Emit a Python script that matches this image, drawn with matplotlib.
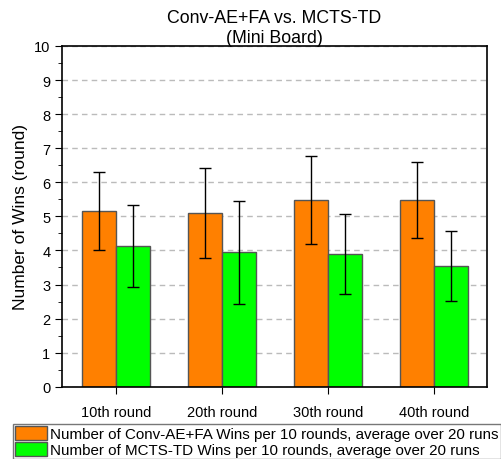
import matplotlib
matplotlib.use('Agg')
import matplotlib.pyplot as plt
import numpy as np
from matplotlib.ticker import MultipleLocator

plt.rcParams['font.family'] = ['Liberation Sans', 'DejaVu Sans']

rounds = ['10th round', '20th round', '30th round', '40th round']
conv_mean = [5.15, 5.09, 5.48, 5.48]
conv_err = [1.15, 1.32, 1.28, 1.11]
mcts_mean = [4.14, 3.94, 3.89, 3.54]
mcts_err = [1.2, 1.5, 1.18, 1.02]

fig = plt.figure(figsize=(5.01, 4.6), dpi=100)
ax = fig.add_axes([0.124, 0.157, 0.848, 0.741])

x = np.arange(1, len(rounds) + 1)
w = 0.32
ax.bar(x - w/2, conv_mean, w, color='#ff8000', edgecolor='#555555', linewidth=1,
       label='Number of Conv-AE+FA Wins per 10 rounds, average over 20 runs', zorder=2)
ax.bar(x + w/2, mcts_mean, w, color='#00ff00', edgecolor='#555555', linewidth=1,
       label='Number of MCTS-TD Wins per 10 rounds, average over 20 runs', zorder=2)
ax.errorbar(x - w/2, conv_mean, yerr=conv_err, fmt='none', ecolor='black',
            elinewidth=1, capsize=4, capthick=1, zorder=3)
ax.errorbar(x + w/2, mcts_mean, yerr=mcts_err, fmt='none', ecolor='black',
            elinewidth=1, capsize=4, capthick=1, zorder=3)

ax.set_xlim(0.49, 4.5)
ax.set_ylim(0, 10)
ax.set_xticks(x)
ax.set_xticklabels(rounds, fontsize=10.5)
ax.yaxis.set_major_locator(MultipleLocator(1))
ax.yaxis.set_minor_locator(MultipleLocator(0.5))
ax.tick_params(axis='y', which='major', direction='out', length=5, labelsize=10.5)
ax.tick_params(axis='y', which='minor', direction='out', length=3)
ax.tick_params(axis='x', direction='out', length=5, labelsize=10.5, pad=8)
ax.grid(axis='y', linestyle=(0, (4, 3)), color='#bbbbbb', linewidth=1, zorder=0)
for s in ax.spines.values():
    s.set_linewidth(1.2)

ax.set_ylabel('Number of Wins (round)', fontsize=12.5)
ax.set_title('Conv-AE+FA vs. MCTS-TD\n(Mini Board)', fontsize=12.8, linespacing=1.2, pad=2)

fig.legend(loc='lower left', bbox_to_anchor=(0.026, 0.0, 0.974, 0.09), mode='expand',
           fontsize=10.9, frameon=True, fancybox=False, edgecolor='#555555',
           handlelength=2.1, handleheight=1.1, handletextpad=0.2, borderpad=0.12,
           labelspacing=0.05, borderaxespad=0)

fig.savefig('out.png', dpi=100)
